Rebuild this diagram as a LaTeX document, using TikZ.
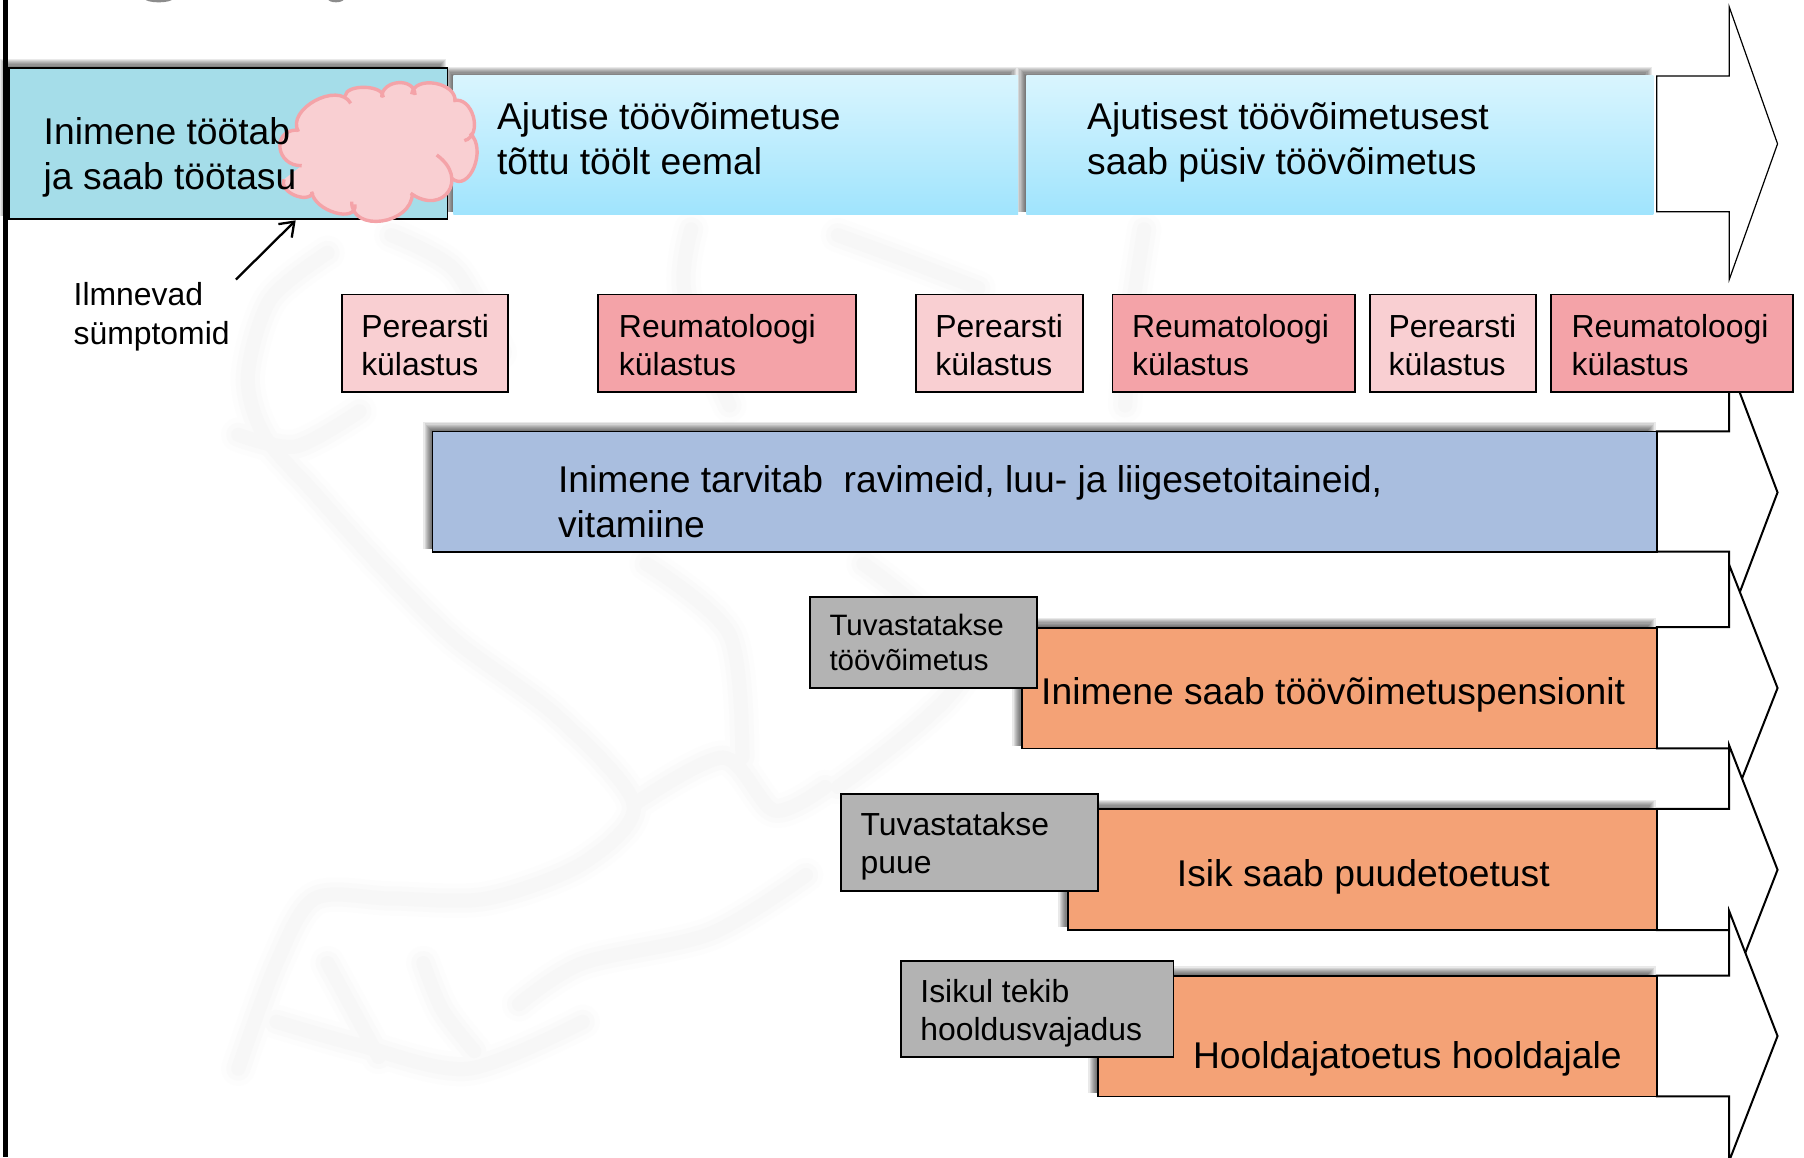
\documentclass[tikz,border=0pt]{standalone}
\usepackage{fontspec}
\setmainfont{Liberation Sans}
\usetikzlibrary{arrows.meta}
\definecolor{cBoxOne}{HTML}{A5DDE9}
\definecolor{cGradTop}{HTML}{D9F5FE}
\definecolor{cGradBot}{HTML}{A0E4FD}
\definecolor{cPinkL}{HTML}{F9CFD2}
\definecolor{cPinkD}{HTML}{F4A3A8}
\definecolor{cLilac}{HTML}{A9BEDF}
\definecolor{cOrange}{HTML}{F4A276}
\definecolor{cGray}{HTML}{B3B3B3}
\definecolor{wmA}{HTML}{FDFDFD}
\definecolor{wmB}{HTML}{FAFAFA}
\definecolor{wmC}{HTML}{F7F7F7}
\newcommand{\rr}{1.1505}
% \boxnode{name}{style}{x0}{y0}{x1}{y1}
\newcommand{\boxnode}[6]{%
  \node[#2,minimum width={(#5-#3)*\rr*1pt},minimum height={(#6-#4)*\rr*1pt}] (#1) at ({(#3+#5)/2},{(#4+#6)/2}) {};}
% \softshadow{x0}{y0}{x1}{y1}
\newcommand{\softshadow}[4]{%
  \foreach \d in {8,7,...,1}{\fill[black,opacity=.085] ({#1-\d},{#2-\d}) rectangle ({#3-9+\d},{#4-2});}}
% a cloud bump from A through apex P to B: \bump{ax}{ay}{px}{py}{bx}{by}
\newcommand{\bump}[6]{.. controls ({#1+4/3*(#3-(#1+#5)/2)},{#2+4/3*(#4-(#2+#6)/2)}) and ({#5+4/3*(#3-(#1+#5)/2)},{#6+4/3*(#4-(#2+#6)/2)}) .. (#5,#6)}
% two-line text with fixed line distance
\newcommand{\twolines}[3]{\vtop{\baselineskip=#1pt\lineskiplimit=-100pt\hbox{#2}\hbox{#3}}}
\newcommand{\fsA}{\fontsize{37.25}{43}\selectfont}
\newcommand{\fsB}{\fontsize{31.9}{38}\selectfont}
\newcommand{\fsC}{\fontsize{29.5}{35}\selectfont}
\tikzset{
  lbl/.style={anchor=base west,inner sep=0pt,outer sep=0pt,text=black},
  pl/.style={draw=black,line width=1.8pt,inner sep=0pt,outer sep=0pt},
  gradbox/.style={inner sep=0pt,outer sep=0pt,top color=cGradTop,bottom color=cGradBot},
  bigarrow/.style={draw=black,fill=white,line width=2pt,line join=miter},
  wm/.style={line cap=round,line join=round},
  cloudedge/.style={draw=cPinkD,line width=3.4pt,line cap=butt}
}
\begin{document}
\begin{tikzpicture}[x=1.1505pt,y=-1.1505pt]
\useasboundingbox (0,0) rectangle (1568,1005.65);
\fill[white] (0,0) rectangle (1568,1005.65);

% faint watermark
\begin{scope}[shift={(173.8,173.8)},x=.638pt,y=-.587pt]
 \foreach \w/\c in {34/wmA,24/wmB,14/wmC}{
  \begin{scope}[line width=\w pt,draw=\c,wm]
  \draw plot[smooth] coordinates {(200,90)(110,170)(75,300)(100,400)(180,500)(280,620)(400,750)(560,880)(680,1030)(600,1130)(450,1190)(300,1190)(180,1190)(120,1300)(60,1480)};
  \draw plot[smooth] coordinates {(680,1030)(820,950)(900,1040)(980,1000)};
  \draw plot[smooth] coordinates {(500,1370)(600,1300)(800,1250)(950,1150)};
  \draw plot[smooth] coordinates {(200,1300)(240,1380)(280,1460)};
  \draw plot[smooth] coordinates {(350,1300)(380,1380)(430,1450)};
  \draw plot[smooth] coordinates {(120,1400)(250,1440)(420,1480)(600,1400)};
  \draw plot[smooth] coordinates {(770,50)(760,160)(830,350)};
  \draw plot[smooth] coordinates {(1000,60)(1100,100)(1220,150)};
  \draw plot[smooth] coordinates {(1480,50)(1460,200)(1450,350)};
  \draw plot[smooth] coordinates {(700,620)(830,740)(850,950)};
  \draw plot[smooth] coordinates {(1040,620)(1200,800)(1000,1000)};
  \draw plot[smooth] coordinates {(300,60)(400,120)(470,260)};
  \draw plot[smooth] coordinates {(60,400)(150,420)(250,360)};
  \end{scope}}
\end{scope}

% fragments at the top edge
\fill[black!45] (138,-1) ellipse (12 and 3);
\fill[black!45] (292,-1) ellipse (7 and 3);

% left rule
\fill[black] (2.6,0) rectangle (7.3,1006);

% big arrows
\draw[bigarrow,line width=1.2pt] (1440,66) -- (1503,66) -- (1503,6) -- (1545,125) -- (1503,243) -- (1503,184) -- (1440,184) -- cycle;
\draw[bigarrow] (1440,375) -- (1503,375) -- (1503,317) -- (1545,428) -- (1503,539) -- (1503,479.5) -- (1440,479.5) -- cycle;
\draw[bigarrow] (1440,545) -- (1503,545) -- (1503,491) -- (1545,598) -- (1503,705) -- (1503,650.5) -- (1440,650.5) -- cycle;
\draw[bigarrow] (1440,703) -- (1503,703) -- (1503,648) -- (1545,756) -- (1503,864) -- (1503,808.5) -- (1440,808.5) -- cycle;
\draw[bigarrow] (1440,848) -- (1503,848) -- (1503,792) -- (1545,900.5) -- (1503,1009) -- (1503,953) -- (1440,953) -- cycle;

% shadows
\softshadow{8}{59}{389}{190}
\softshadow{394}{66}{885}{186}
\softshadow{892}{66}{1437}{186}
\softshadow{376}{375}{1440}{479}
\softshadow{888}{545}{1440}{650}
\softshadow{928}{703}{1440}{808}
\softshadow{954}{848}{1440}{952}

% top row
\boxnode{work}{pl,fill=cBoxOne}{8}{59}{389}{190.5}
\boxnode{temp}{gradbox}{394}{66}{885}{186}
\boxnode{perm}{gradbox}{892}{66}{1437}{186}

% visits
\boxnode{v1}{pl,fill=cPinkL}{297}{256}{441.5}{341}
\boxnode{v2}{pl,fill=cPinkD}{520}{256}{744}{341}
\boxnode{v3}{pl,fill=cPinkL}{796}{256}{941}{341}
\boxnode{v4}{pl,fill=cPinkD}{967}{256}{1178}{341}
\boxnode{v5}{pl,fill=cPinkL}{1191}{256}{1335}{341}
\boxnode{v6}{pl,fill=cPinkD}{1348}{256}{1558.5}{341}

% long bars
\boxnode{meds}{pl,fill=cLilac}{376}{375}{1440}{479.5}
\boxnode{pens}{pl,fill=cOrange}{888}{545.5}{1440}{650.5}
\boxnode{puude}{pl,fill=cOrange}{928}{703.5}{1440}{808.5}
\boxnode{hool}{pl,fill=cOrange}{954}{848.5}{1440}{953}

% gray boxes
\boxnode{g1}{pl,fill=cGray}{704}{519}{901.5}{598}
\boxnode{g2}{pl,fill=cGray}{731}{690}{954}{774.5}
\boxnode{g3}{pl,fill=cGray}{783}{835}{1020}{919}

% symptom arrow
\coordinate (symfrom) at (205,243);
\coordinate (symto) at (257,191.5);
\draw[black,line width=2.3pt,-{Straight Barb[length=13pt,width=19pt,line width=2.3pt]}] (symfrom) -- (symto);

% cloud (coordinates are those of a 3x crop at 280,60)
\begin{scope}[shift={(243.4,52.15)},x=.3333pt,y=-.3333pt]
 \fill[cPinkL] (55,215) \bump{55}{215}{105}{122}{212}{130}
   -- (195,108) \bump{195}{108}{255}{82}{310}{112}
   -- (305,112) \bump{305}{112}{355}{68}{405}{105}
   -- (395,103) \bump{395}{103}{465}{70}{525}{125}
   -- (520,122) \bump{520}{122}{580}{170}{553}{242}
   -- (570,220) \bump{570}{220}{582}{322}{515}{355}
   -- (392,400)
   -- (397,400) \bump{397}{400}{305}{483}{215}{425}
   -- (225,433) \bump{225}{433}{165}{458}{95}{395}
   -- (100,398) \bump{100}{398}{42}{405}{12}{358}
   -- (65,317) \bump{65}{317}{0}{265}{50}{210} -- cycle;
 \fill[cPinkL] (470,285) \bump{470}{285}{505}{395}{392}{400} -- cycle;
 \begin{scope}[cloudedge]
  \draw (55,215) \bump{55}{215}{105}{122}{212}{130};
  \draw (195,108) \bump{195}{108}{255}{82}{310}{112};
  \draw (305,112) \bump{305}{112}{355}{68}{405}{105};
  \draw (395,103) \bump{395}{103}{465}{70}{525}{125};
  \draw (520,122) \bump{520}{122}{580}{170}{553}{242};
  \draw (570,220) \bump{570}{220}{582}{322}{515}{355};
  \draw (470,285) \bump{470}{285}{505}{395}{392}{400};
  \draw (397,400) \bump{397}{400}{305}{483}{215}{425};
  \draw (225,433) \bump{225}{433}{165}{458}{95}{395};
  \draw (100,398) \bump{100}{398}{42}{405}{12}{358};
  \draw (50,210) \bump{50}{210}{0}{265}{65}{317};
 \end{scope}
\end{scope}

% labels
\node[lbl,font=\fsA] (t-work) at (38,126) {\twolines{45}{Inimene töötab}{ja saab töötasu}};
\node[lbl,font=\fsA] (t-temp) at (432,112.5) {\twolines{45.5}{Ajutise töövõimetuse}{tõttu töölt eemal}};
\node[lbl,font=\fsA] (t-perm) at (945,112.5) {\twolines{45.5}{Ajutisest töövõimetusest}{saab püsiv töövõimetus}};
\node[lbl,font=\fsB] (t-sym) at (64,265.5) {\twolines{39}{Ilmnevad}{sümptomid}};
\node[lbl,font=\fsB] (t-v1) at (314,293) {\twolines{38}{Perearsti}{külastus}};
\node[lbl,font=\fsB] (t-v2) at (538,293) {\twolines{38}{Reumatoloogi}{külastus}};
\node[lbl,font=\fsB] (t-v3) at (813,293) {\twolines{38}{Perearsti}{külastus}};
\node[lbl,font=\fsB] (t-v4) at (984,293) {\twolines{38}{Reumatoloogi}{külastus}};
\node[lbl,font=\fsB] (t-v5) at (1207,293) {\twolines{38}{Perearsti}{külastus}};
\node[lbl,font=\fsB] (t-v6) at (1366,293) {\twolines{38}{Reumatoloogi}{külastus}};
\node[lbl,font=\fsA] (t-meds) at (485,428) {\twolines{45}{Inimene tarvitab\ \ ravimeid, luu- ja liigesetoitaineid,}{vitamiine}};
\node[lbl,font=\fsA] (t-pens) at (905,612) {Inimene saab töövõimetuspensionit};
\node[lbl,font=\fsA] (t-puude) at (1023,770.5) {Isik saab puudetoetust};
\node[lbl,font=\fsA] (t-hool) at (1037,928.5) {Hooldajatoetus hooldajale};
\node[lbl,font=\fsC] (t-g1) at (721,552) {\twolines{35.5}{Tuvastatakse}{töövõimetus}};
\node[lbl,font=\fsB] (t-g2) at (748,726.5) {\twolines{38}{Tuvastatakse}{puue}};
\node[lbl,font=\fsB] (t-g3) at (800,871) {\twolines{38}{Isikul tekib}{hooldusvajadus}};
\end{tikzpicture}
\end{document}
